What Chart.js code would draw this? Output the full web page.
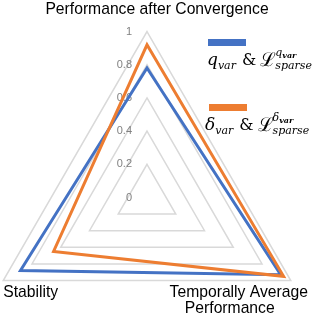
<!DOCTYPE html>
<html lang="en">
<head>
<meta charset="UTF-8">
<title>Radar</title>
<script src="https://cdn.jsdelivr.net/npm/chart.js@4.4.0/dist/chart.umd.min.js"></script>
<style>
  body { margin: 0; background: #fff; }
  #wrap { width: 316px; height: 316px; }
</style>
</head>
<body>
<div id="wrap"><canvas id="radar" width="316" height="316"></canvas></div>
<script>
// axes, clockwise from the top
var axisLabels = ['Performance after Convergence', 'Temporally Average Performance', 'Stability'];
var qVar = [0.78, 0.93, 0.88];
var deltaVar = [0.92, 0.95, 0.65];
var tickValues = [0, 0.2, 0.4, 0.6, 0.8, 1];
var tickText = ['0', '0.2', '0.4', '0.6', '0.8', '1'];

var BLUE = '#4472C4';
var ORANGE = '#ED7D31';

// where the axis names sit, relative to the vertex of each axis
var labelSpots = [
  [{ text: 'Performance after Convergence', dx: 10, dy: -18, align: 'center' }],
  [{ text: 'Temporally Average', dx: -52, dy: 16.5, align: 'center' },
   { text: 'Performance', dx: -61, dy: 32.5, align: 'center' }],
  [{ text: 'Stability', dx: 0, dy: 16, align: 'left' }]
];

function mathLabel(ctx, x, y, sym) {
  var it = function (px) { return 'italic ' + px + 'px "DejaVu Serif"'; };
  ctx.save();
  ctx.fillStyle = '#000';
  ctx.textAlign = 'left';
  ctx.textBaseline = 'alphabetic';
  ctx.font = it(17);
  ctx.fillText(sym, x, y);
  x += ctx.measureText(sym).width;
  ctx.font = it(11);
  ctx.fillText('var', x, y + 4);
  x += ctx.measureText('var').width + 2;
  ctx.font = '16px "DejaVu Serif"';
  ctx.fillText('& ', x + 4, y);
  x += ctx.measureText('& ').width + 3;
  ctx.font = '19px "DejaVu Serif"';
  ctx.fillText('\u2112', x, y + 1);
  x += ctx.measureText('\u2112').width - 1;
  ctx.font = it(11);
  ctx.fillText(sym, x, y - 9);
  var sx = x + ctx.measureText(sym).width;
  ctx.font = 'italic bold 8px "DejaVu Serif"';
  ctx.fillText('var', sx, y - 7);
  ctx.font = it(11);
  ctx.fillText('sparse', x, y + 4);
  ctx.restore();
}

var decor = {
  id: 'decor',
  beforeDatasetsDraw: function (chart) {
    var s = chart.scales.r;
    var ctx = chart.ctx;
    ctx.save();
    ctx.font = '11px "Liberation Sans"';
    ctx.fillStyle = '#808080';
    ctx.textAlign = 'right';
    ctx.textBaseline = 'middle';
    tickValues.forEach(function (v, i) {
      var y = s.yCenter - s.getDistanceFromCenterForValue(v);
      ctx.fillText(tickText[i], s.xCenter - 15, y);
    });
    ctx.restore();
  },
  afterDraw: function (chart) {
    var s = chart.scales.r;
    var ctx = chart.ctx;
    ctx.save();
    ctx.font = '15.7px "Liberation Sans"';
    ctx.fillStyle = '#000';
    ctx.textBaseline = 'alphabetic';
    labelSpots.forEach(function (lines, i) {
      var p = s.getPointPosition(i, s.drawingArea);
      lines.forEach(function (l) {
        ctx.textAlign = l.align;
        ctx.fillText(l.text, p.x + l.dx, p.y + l.dy);
      });
    });
    // legend
    ctx.fillStyle = BLUE;
    ctx.fillRect(208, 39, 38, 7);
    ctx.fillStyle = ORANGE;
    ctx.fillRect(209, 104, 38, 7);
    ctx.restore();
    mathLabel(ctx, 207, 65, 'q');
    mathLabel(ctx, 205, 130, '\u03b4');
  }
};

new Chart(document.getElementById('radar'), {
  type: 'radar',
  data: {
    labels: axisLabels,
    datasets: [{
      label: 'q_var & L_sparse^q_var',
      data: qVar,
      borderColor: BLUE,
      borderWidth: 3,
      pointRadius: 0,
      fill: false,
      order: 2
    }, {
      label: 'delta_var & L_sparse^delta_var',
      data: deltaVar,
      borderColor: ORANGE,
      borderWidth: 3,
      pointRadius: 0,
      fill: false,
      order: 1
    }]
  },
  options: {
    responsive: false,
    animation: false,
    elements: { line: { tension: 0, borderJoinStyle: 'miter' } },
    plugins: { legend: { display: false }, tooltip: { enabled: false } },
    scales: {
      r: {
        min: 0,
        max: 1,
        ticks: { stepSize: 0.2, display: false },
        grid: { color: '#d9d9d9', lineWidth: 1.5 },
        angleLines: { display: false },
        pointLabels: { display: false },
        afterFit: function (s) {
          s.xCenter = 147;
          s.yCenter = 197.5;
          s.drawingArea = 166;
        }
      }
    }
  },
  plugins: [decor]
});
</script>
</body>
</html>
